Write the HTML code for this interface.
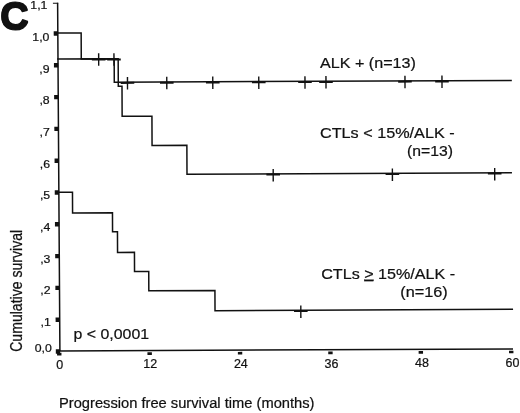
<!DOCTYPE html>
<html><head><meta charset="utf-8"><title>C</title>
<style>
html,body{margin:0;padding:0;background:#fff;}
body{width:520px;height:413px;overflow:hidden;position:relative;font-family:"Liberation Sans",sans-serif;}
svg{position:absolute;left:0;top:0;display:block;}
text{font-family:"Liberation Sans",sans-serif;fill:#111;stroke:#111;stroke-width:0.22px;}
svg{filter:blur(0.3px);}
</style></head><body>
<svg width="520" height="413" viewBox="0 0 520 413">
<rect x="0" y="0" width="520" height="413" fill="#ffffff"/>
<g transform="rotate(-0.26 59.2 351)">

<g stroke="#111" stroke-width="1.5" fill="none" stroke-linecap="square" stroke-linejoin="miter">
<path d="M59.2 3.5 L59.9 351 L512.3 351"/>
<path d="M55 3.3 H59.2" stroke-width="1"/>
<path d="M59.2 33 H82.6 V59 H115.5 V82.5 H512.3"/>
<path d="M59.2 59 H119.5 V86.6 H123.2 V116.6 H153.0 V145.9 H187.8 V174.8 H512"/>
<path d="M59.2 192.2 H73.2 V213 H113.1 V232.1 H118 V252.7 H134.9 V271.8 H149.1 V291.1 H215.2 V311.4 H512.5"/>
</g>
<g fill="#111">
<rect x="55.80" y="349.30" width="4.3" height="4.4"/>
<rect x="55.74" y="317.50" width="4.3" height="4.4"/>
<rect x="55.67" y="285.70" width="4.3" height="4.4"/>
<rect x="55.61" y="253.90" width="4.3" height="4.4"/>
<rect x="55.54" y="222.10" width="4.3" height="4.4"/>
<rect x="55.48" y="190.30" width="4.3" height="4.4"/>
<rect x="55.42" y="158.50" width="4.3" height="4.4"/>
<rect x="55.35" y="126.70" width="4.3" height="4.4"/>
<rect x="55.29" y="94.90" width="4.3" height="4.4"/>
<rect x="55.22" y="63.10" width="4.3" height="4.4"/>
<rect x="55.16" y="31.30" width="4.3" height="4.4"/>
<rect x="57.05" y="352.7" width="4.4" height="2.7"/>
<rect x="147.45" y="352.7" width="4.4" height="2.7"/>
<rect x="237.84" y="352.7" width="4.4" height="2.7"/>
<rect x="328.24" y="352.7" width="4.4" height="2.7"/>
<rect x="418.63" y="352.7" width="4.4" height="2.7"/>
<rect x="509.03" y="352.7" width="4.4" height="2.7"/>
</g>
<g stroke="#111" stroke-width="1.4" fill="none">
<path d="M100.00 53.40 V65.90" />
<path d="M93.20 59.70 H106.80" stroke-width="2"/>
<path d="M115.30 53.40 V65.90" />
<path d="M108.50 59.70 H122.10" stroke-width="2"/>
<path d="M128.70 77.30 V89.80" />
<path d="M121.90 83.20 H135.50" stroke-width="2"/>
<path d="M168.00 77.30 V89.80" />
<path d="M161.20 83.20 H174.80" stroke-width="2"/>
<path d="M214.00 77.30 V89.80" />
<path d="M207.20 83.20 H220.80" stroke-width="2"/>
<path d="M260.00 77.30 V89.80" />
<path d="M253.20 83.20 H266.80" stroke-width="2"/>
<path d="M306.20 77.30 V89.80" />
<path d="M299.40 83.20 H313.00" stroke-width="2"/>
<path d="M327.20 77.30 V89.80" />
<path d="M320.40 83.20 H334.00" stroke-width="2"/>
<path d="M406.20 77.30 V89.80" />
<path d="M399.40 83.20 H413.00" stroke-width="2"/>
<path d="M443.20 77.30 V89.80" />
<path d="M436.40 83.20 H450.00" stroke-width="2"/>
<path d="M274.00 170.00 V182.50" />
<path d="M267.20 175.50 H280.80" stroke-width="2"/>
<path d="M393.20 170.00 V182.50" />
<path d="M386.40 175.50 H400.00" stroke-width="2"/>
<path d="M495.50 170.00 V182.50" />
<path d="M488.70 175.50 H502.30" stroke-width="2"/>
<path d="M301.00 306.60 V319.10" />
<path d="M294.20 312.10 H307.80" stroke-width="2"/>
</g>
</g>
<text transform="translate(0.3 28.90) scale(1.02 1)" font-size="38.5" font-weight="bold" style="stroke:#111;stroke-width:1.2px" stroke-linejoin="round">C</text>
<text transform="translate(0.3 30.30) scale(1.02 1)" font-size="38.5" font-weight="bold" style="stroke:#111;stroke-width:1.2px" stroke-linejoin="round">C</text>
<text transform="translate(51.80 352.40) scale(1.0700 1)" font-size="11.50" text-anchor="end">0,0</text>
<text transform="translate(50.75 325.94) scale(1.0700 1)" font-size="11.50" text-anchor="end">,1</text>
<text transform="translate(50.60 294.28) scale(1.0700 1)" font-size="11.50" text-anchor="end">,2</text>
<text transform="translate(50.45 262.62) scale(1.0700 1)" font-size="11.50" text-anchor="end">,3</text>
<text transform="translate(50.30 230.96) scale(1.0700 1)" font-size="11.50" text-anchor="end">,4</text>
<text transform="translate(50.15 199.30) scale(1.0700 1)" font-size="11.50" text-anchor="end">,5</text>
<text transform="translate(50.00 167.64) scale(1.0700 1)" font-size="11.50" text-anchor="end">,6</text>
<text transform="translate(49.85 135.98) scale(1.0700 1)" font-size="11.50" text-anchor="end">,7</text>
<text transform="translate(49.70 104.32) scale(1.0700 1)" font-size="11.50" text-anchor="end">,8</text>
<text transform="translate(49.55 72.66) scale(1.0700 1)" font-size="11.50" text-anchor="end">,9</text>
<text transform="translate(49.40 41.00) scale(1.0700 1)" font-size="11.50" text-anchor="end">1,0</text>
<text transform="translate(47.40 8.80) scale(1.0700 1)" font-size="11.50" text-anchor="end">1,1</text>
<text transform="translate(59.75 368.60) scale(1.0400 1)" font-size="12.00" text-anchor="middle">0</text>
<text transform="translate(150.29 368.31) scale(1.0400 1)" font-size="12.00" text-anchor="middle">12</text>
<text transform="translate(240.83 368.02) scale(1.0400 1)" font-size="12.00" text-anchor="middle">24</text>
<text transform="translate(331.37 367.73) scale(1.0400 1)" font-size="12.00" text-anchor="middle">36</text>
<text transform="translate(421.91 367.44) scale(1.0400 1)" font-size="12.00" text-anchor="middle">48</text>
<text transform="translate(512.45 367.15) scale(1.0400 1)" font-size="12.00" text-anchor="middle">60</text>
<text transform="translate(22 351.8) rotate(-90) scale(1 1.16)" font-size="14.2" textLength="122" lengthAdjust="spacingAndGlyphs">Cumulative survival</text>
<text transform="translate(73.60 338.50) scale(1.0600 1)" font-size="15.00" text-anchor="start">p &lt; 0,0001</text>
<text transform="translate(59.00 407.60) scale(1.0000 1)" font-size="14.70" text-anchor="start">Progression free survival time (months)</text>
<text transform="translate(320.00 67.60) scale(1.0750 1)" font-size="15.00" text-anchor="start">ALK + (n=13)</text>
<text transform="translate(320.00 138.20) scale(1.0800 1)" font-size="15.00" text-anchor="start">CTLs &lt; 15%/ALK -</text>
<text transform="translate(407.00 155.70) scale(1.0500 1)" font-size="15.00" text-anchor="start">(n=13)</text>
<text transform="translate(321.20 278.70) scale(1.0750 1)" font-size="15.00" text-anchor="start">CTLs <tspan text-decoration="underline">&gt;</tspan> 15%/ALK -</text>
<text transform="translate(400.30 297.40) scale(1.0850 1)" font-size="15.00" text-anchor="start">(n=16)</text>
</svg></body></html>
